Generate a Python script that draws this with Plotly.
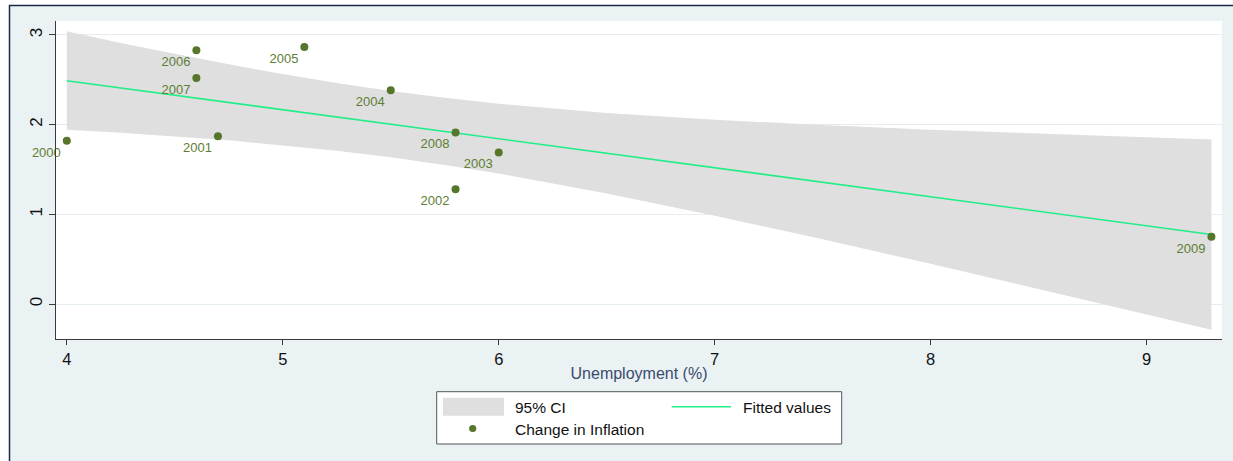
import plotly.graph_objects as go

# ---------------- data ----------------
years = ["2000", "2001", "2002", "2003", "2004", "2005", "2006", "2007", "2008", "2009"]
unemployment = [4.0, 4.7, 5.8, 6.0, 5.5, 5.1, 4.6, 4.6, 5.8, 9.3]
inflation_change = [1.82, 1.87, 1.28, 1.69, 2.385, 2.866, 2.83, 2.52, 1.912, 0.75]

fit_x = [4.0, 9.3]
fit_y = [2.49, 0.775]

ci_x = [4.0, 4.25, 4.5, 4.75, 5.0, 5.25, 5.5, 5.75, 6.0, 6.5, 7.0, 7.5, 8.0, 8.5, 9.0, 9.3]
ci_upper = [3.042, 2.911, 2.791, 2.673, 2.564, 2.465, 2.376, 2.299, 2.233, 2.131,
            2.055, 1.995, 1.944, 1.900, 1.859, 1.836]
ci_lower = [1.942, 1.910, 1.869, 1.826, 1.772, 1.710, 1.636, 1.551, 1.455, 1.233,
            0.985, 0.721, 0.448, 0.168, -0.115, -0.286]

x_ticks = [4, 5, 6, 7, 8, 9]
y_ticks = [0, 1, 2, 3]

legend_labels = ["95% CI", "Fitted values", "Change in Inflation"]
x_title = "Unemployment (%)"

# ---------------- layout geometry ----------------
W, H = 1233, 461
ML, MR, MT, MB = 56, 11, 21, 122
PW = W - ML - MR
PH = H - MT - MB


def px(x):
    return (x - ML) / PW


def py(y):
    return (H - MB - y) / PH


FONT = "Liberation Sans, Arial, Helvetica, sans-serif"
BG = "#EAF2F3"
GREEN = "#56762B"
LABEL_GREEN = "#5E7E35"
FIT = "#22EE88"
CI = "#DFDFDF"
AXIS = "#3A3A3A"

fig = go.Figure()

fig.add_trace(go.Scatter(
    x=ci_x + ci_x[::-1],
    y=ci_upper + ci_lower[::-1],
    mode="lines", fill="toself", fillcolor=CI,
    line=dict(width=0, color=CI),
    name=legend_labels[0], hoverinfo="skip", showlegend=False,
))
fig.add_trace(go.Scatter(
    x=fit_x, y=fit_y, mode="lines",
    line=dict(color=FIT, width=1.6),
    name=legend_labels[1], showlegend=False,
))
fig.add_trace(go.Scatter(
    x=unemployment, y=inflation_change, mode="markers+text",
    text=years, textposition="bottom left",
    textfont=dict(family=FONT, size=13, color=LABEL_GREEN),
    marker=dict(color=GREEN, size=8),
    cliponaxis=False,
    name=legend_labels[2], showlegend=False,
))

shapes = [
    # outer graph region with frame
    dict(type="rect", xref="paper", yref="paper",
         x0=px(9.5), x1=px(1260), y0=py(480), y1=py(5.5),
         fillcolor=BG, line=dict(color="#1B2A4B", width=1.5), layer="below"),
    # white plot region
    dict(type="rect", xref="paper", yref="paper", x0=0, x1=1, y0=0, y1=1,
         fillcolor="white", line=dict(width=0), layer="below"),
    # legend box
    dict(type="rect", xref="paper", yref="paper",
         x0=px(436.7), x1=px(841.7), y0=py(444), y1=py(391.7),
         fillcolor="white", line=dict(color="#555555", width=1), layer="above"),
    # CI swatch
    dict(type="rect", xref="paper", yref="paper",
         x0=px(443), x1=px(504), y0=py(415.7), y1=py(397.7),
         fillcolor=CI, line=dict(width=0), layer="above"),
    # fitted line swatch
    dict(type="line", xref="paper", yref="paper",
         x0=px(671.7), x1=px(731), y0=py(406.7), y1=py(406.7),
         line=dict(color=FIT, width=1.6), layer="above"),
    # marker swatch
    dict(type="circle", xref="paper", yref="paper",
         xsizemode="pixel", ysizemode="pixel",
         xanchor=px(472.7), yanchor=py(428.5),
         x0=-3.6, x1=3.6, y0=-3.6, y1=3.6,
         fillcolor=GREEN, line=dict(width=0), layer="above"),
]

legend_font = dict(family=FONT, size=15.5, color="#111111")
annotations = [
    dict(text=legend_labels[0], xref="paper", yref="paper", x=px(512.7), y=py(407),
         xanchor="left", yanchor="middle", showarrow=False, font=legend_font),
    dict(text=legend_labels[1], xref="paper", yref="paper", x=px(740.7), y=py(407),
         xanchor="left", yanchor="middle", showarrow=False, font=legend_font),
    dict(text=legend_labels[2], xref="paper", yref="paper", x=px(512.7), y=py(429),
         xanchor="left", yanchor="middle", showarrow=False, font=legend_font),
]

fig.update_layout(
    width=W, height=H,
    margin=dict(l=ML, r=MR, t=MT, b=MB, autoexpand=False),
    paper_bgcolor="white", plot_bgcolor="white",
    font=dict(family=FONT, color="#111111"),
    showlegend=False,
    shapes=shapes, annotations=annotations,
    xaxis=dict(
        range=[3.950, 9.349], tickvals=x_ticks, ticks="outside", ticklen=5,
        tickcolor=AXIS, tickwidth=1, showline=True, linecolor=AXIS, linewidth=1,
        showgrid=False, zeroline=False,
        tickfont=dict(family=FONT, size=16.5, color="#111111"),
        title=dict(text=x_title, font=dict(family=FONT, size=16, color="#3A4A6E"),
                   standoff=1),
    ),
    yaxis=dict(
        range=[-0.390, 3.156], tickvals=y_ticks, ticks="outside", ticklen=6,
        tickcolor=AXIS, tickwidth=1, tickangle=-90, showline=True, linecolor=AXIS,
        linewidth=1, showgrid=True, gridcolor="#E4EDEF", gridwidth=1, zeroline=False,
        tickfont=dict(family=FONT, size=17, color="#111111"),
    ),
)

fig.write_html("out.html")
